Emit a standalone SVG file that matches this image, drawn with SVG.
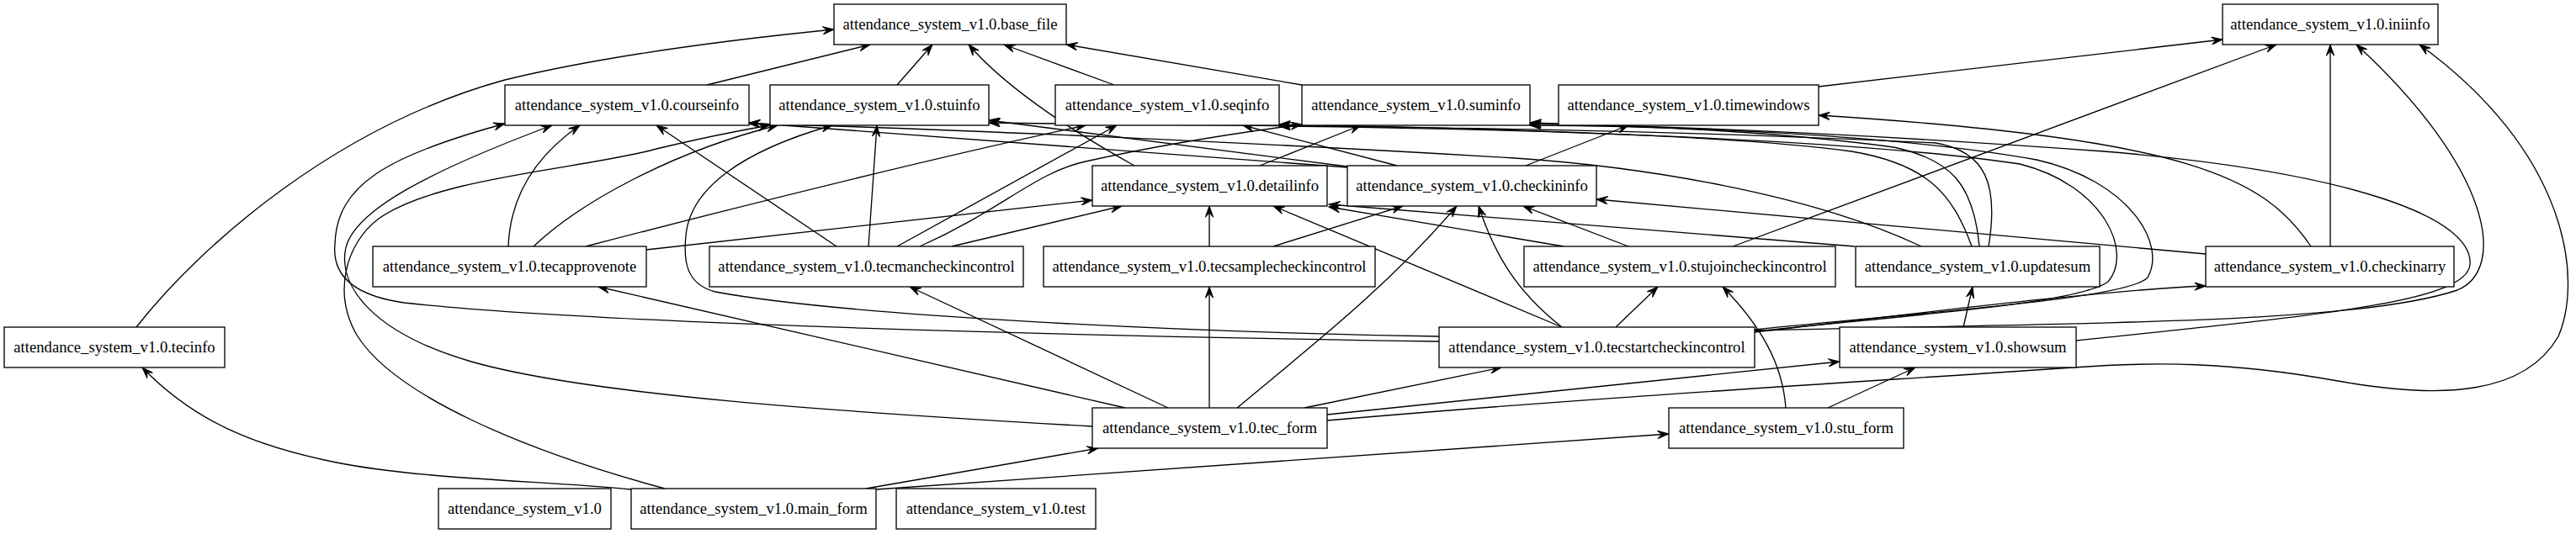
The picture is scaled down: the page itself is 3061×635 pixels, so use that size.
<svg xmlns="http://www.w3.org/2000/svg" width="3061" height="635" viewBox="0 0 3061 635">
<style>
.n rect{fill:#fff;stroke:#000;stroke-width:1.33}
.n text{font-family:"Liberation Serif","Times New Roman",serif;font-size:18.67px;text-anchor:middle;fill:#000}
.e path{fill:none;stroke:#000;stroke-width:1.33;marker-end:url(#ah)}
</style>
<defs>
<marker id="ah" viewBox="-14 -5 15 10" refX="0" refY="0" markerWidth="15" markerHeight="10" markerUnits="userSpaceOnUse" orient="auto">
<path d="M0,0 L-13.3,-4.7 L-8,0 L-13.3,4.7 Z" fill="#000" stroke="#000" stroke-width="1"/>
</marker>
</defs>
<rect x="0" y="0" width="3061" height="635" fill="#fff"/>
<g id="connectors" class="e">
<path d="M162,389 C240,290 400,150 600,95 C720,66 860,48 991,35"/>
<path d="M840,101 L1034,53"/>
<path d="M1066,101 L1108,53"/>
<path d="M1324,101 L1193,53"/>
<path d="M1547,101 L1267,53"/>
<path d="M1348,197 C1290,165 1200,110 1151,53"/>
<path d="M2161,103 L2641,47"/>
<path d="M2059,293 L2705,53"/>
<path d="M2769,293 L2769,53"/>
<path d="M2085,393 C2500,383 2800,385 2920,345 C2980,320 2960,200 2800,53"/>
<path d="M1577,500 C1900,472 2200,455 2464,437 C2560,430 2650,430 2778,453 C2900,475 3000,470 3040,400 C3070,330 3050,180 2875,53"/>
<path d="M2746,293 C2690,210 2600,165 2161,137"/>
<path d="M2467,405 C2750,375 2930,360 2935,315 C2940,260 2800,205 2500,180 C2250,162 2000,150 1818,147"/>
<path d="M1577,493 L2186,430"/>
<path d="M1550,485 L1784,437"/>
<path d="M1388,485 L1081,341"/>
<path d="M1437,485 L1437,341"/>
<path d="M1470,485 C1560,410 1650,340 1731,245"/>
<path d="M1337,485 L711,341"/>
<path d="M1298,507 C1000,490 700,470 560,430 C440,395 405,340 410,300 C415,250 520,200 656,149"/>
<path d="M1710,406 C1300,400 700,385 480,360 C410,350 395,320 398,290 C400,220 460,185 600,147"/>
<path d="M1710,400 C1400,395 1000,375 850,347 C815,338 812,310 815,280 C820,225 880,180 989,149"/>
<path d="M750,582 C650,572 500,570 400,550 C300,530 230,500 169,437"/>
<path d="M1029,581 L1305,533"/>
<path d="M1041,582 L1983,516"/>
<path d="M790,581 C620,535 470,470 425,400 C395,350 410,290 450,260 C520,210 700,200 780,177 C830,165 880,155 914,149"/>
<path d="M604,293 C606,240 630,190 689,149"/>
<path d="M634,293 C690,240 800,180 924,149"/>
<path d="M696,293 C900,240 1100,190 1290,149"/>
<path d="M768,297 L1298,238"/>
<path d="M994,293 L780,149"/>
<path d="M1032,293 L1042,149"/>
<path d="M1066,293 L1327,149"/>
<path d="M1093,293 C1190,250 1230,205 1290,192 C1380,172 1470,158 1547,148"/>
<path d="M1131,293 L1333,245"/>
<path d="M1437,293 L1437,245"/>
<path d="M1513,293 L1667,245"/>
<path d="M1935,293 L1810,245"/>
<path d="M1858,293 L1579,246"/>
<path d="M2204,293 L1579,243"/>
<path d="M2621,302 L1897,237"/>
<path d="M1601,198 L1175,143"/>
<path d="M1601,199 L890,146"/>
<path d="M1660,197 L1477,149"/>
<path d="M1813,197 L1935,149"/>
<path d="M1497,197 L1617,149"/>
<path d="M2283,293 C2150,230 1950,198 1800,188 C1500,170 1100,152 890,147"/>
<path d="M2343,293 C2320,230 2290,195 2200,180 C2050,160 1750,152 1520,148"/>
<path d="M2352,293 C2345,220 2320,190 2250,175 C2100,155 1950,150 1818,146"/>
<path d="M2363,293 C2375,220 2360,180 2300,170 C1900,150 1500,150 1175,146"/>
<path d="M2085,394 C2300,372 2470,360 2505,335 C2535,300 2500,220 2400,195 C2200,165 1800,153 1520,150"/>
<path d="M2085,392 C2300,370 2530,355 2552,330 C2575,290 2530,215 2420,190 C2250,160 2000,150 1818,149"/>
<path d="M2085,395 C2300,370 2500,345 2621,340"/>
<path d="M1920,389 L1970,341"/>
<path d="M1856,389 L1513,245"/>
<path d="M1856,389 C1800,345 1775,300 1757,245"/>
<path d="M2333,389 L2344,341"/>
<path d="M2122,485 C2118,430 2090,385 2047,341"/>
<path d="M2172,485 L2276,437"/>
</g>
<g id="base_file" class="n"><rect x="991" y="5" width="276" height="48"/><text x="1129" y="35">attendance_system_v1.0.base_file</text></g>
<g id="iniinfo" class="n"><rect x="2641" y="5" width="256" height="48"/><text x="2769" y="35">attendance_system_v1.0.iniinfo</text></g>
<g id="courseinfo" class="n"><rect x="600" y="101" width="290" height="48"/><text x="745" y="131">attendance_system_v1.0.courseinfo</text></g>
<g id="stuinfo" class="n"><rect x="915" y="101" width="260" height="48"/><text x="1045" y="131">attendance_system_v1.0.stuinfo</text></g>
<g id="seqinfo" class="n"><rect x="1254" y="101" width="266" height="48"/><text x="1387" y="131">attendance_system_v1.0.seqinfo</text></g>
<g id="suminfo" class="n"><rect x="1547" y="101" width="271" height="48"/><text x="1682.5" y="131">attendance_system_v1.0.suminfo</text></g>
<g id="timewindows" class="n"><rect x="1852" y="101" width="309" height="48"/><text x="2006.5" y="131">attendance_system_v1.0.timewindows</text></g>
<g id="detailinfo" class="n"><rect x="1298" y="197" width="279" height="48"/><text x="1437.5" y="227">attendance_system_v1.0.detailinfo</text></g>
<g id="checkininfo" class="n"><rect x="1601" y="197" width="296" height="48"/><text x="1749" y="227">attendance_system_v1.0.checkininfo</text></g>
<g id="tecapprovenote" class="n"><rect x="443" y="293" width="325" height="48"/><text x="605.5" y="323">attendance_system_v1.0.tecapprovenote</text></g>
<g id="tecmancheckincontrol" class="n"><rect x="843" y="293" width="373" height="48"/><text x="1029.5" y="323">attendance_system_v1.0.tecmancheckincontrol</text></g>
<g id="tecsamplecheckincontrol" class="n"><rect x="1240" y="293" width="394" height="48"/><text x="1437" y="323">attendance_system_v1.0.tecsamplecheckincontrol</text></g>
<g id="stujoincheckincontrol" class="n"><rect x="1811" y="293" width="370" height="48"/><text x="1996" y="323">attendance_system_v1.0.stujoincheckincontrol</text></g>
<g id="updatesum" class="n"><rect x="2205" y="293" width="290" height="48"/><text x="2350" y="323">attendance_system_v1.0.updatesum</text></g>
<g id="checkinarry" class="n"><rect x="2621" y="293" width="295" height="48"/><text x="2768.5" y="323">attendance_system_v1.0.checkinarry</text></g>
<g id="tecinfo" class="n"><rect x="5" y="389" width="262" height="48"/><text x="136" y="419">attendance_system_v1.0.tecinfo</text></g>
<g id="tecstartcheckincontrol" class="n"><rect x="1710" y="389" width="375" height="48"/><text x="1897.5" y="419">attendance_system_v1.0.tecstartcheckincontrol</text></g>
<g id="showsum" class="n"><rect x="2186" y="389" width="281" height="48"/><text x="2326.5" y="419">attendance_system_v1.0.showsum</text></g>
<g id="tec_form" class="n"><rect x="1298" y="485" width="279" height="48"/><text x="1437.5" y="515">attendance_system_v1.0.tec_form</text></g>
<g id="stu_form" class="n"><rect x="1983" y="485" width="279" height="48"/><text x="2122.5" y="515">attendance_system_v1.0.stu_form</text></g>
<g id="attendance_system_v1.0" class="n"><rect x="521" y="581" width="205" height="48"/><text x="623.5" y="611">attendance_system_v1.0</text></g>
<g id="main_form" class="n"><rect x="750" y="581" width="291" height="48"/><text x="895.5" y="611">attendance_system_v1.0.main_form</text></g>
<g id="test" class="n"><rect x="1065" y="581" width="237" height="48"/><text x="1183.5" y="611">attendance_system_v1.0.test</text></g>
</svg>
